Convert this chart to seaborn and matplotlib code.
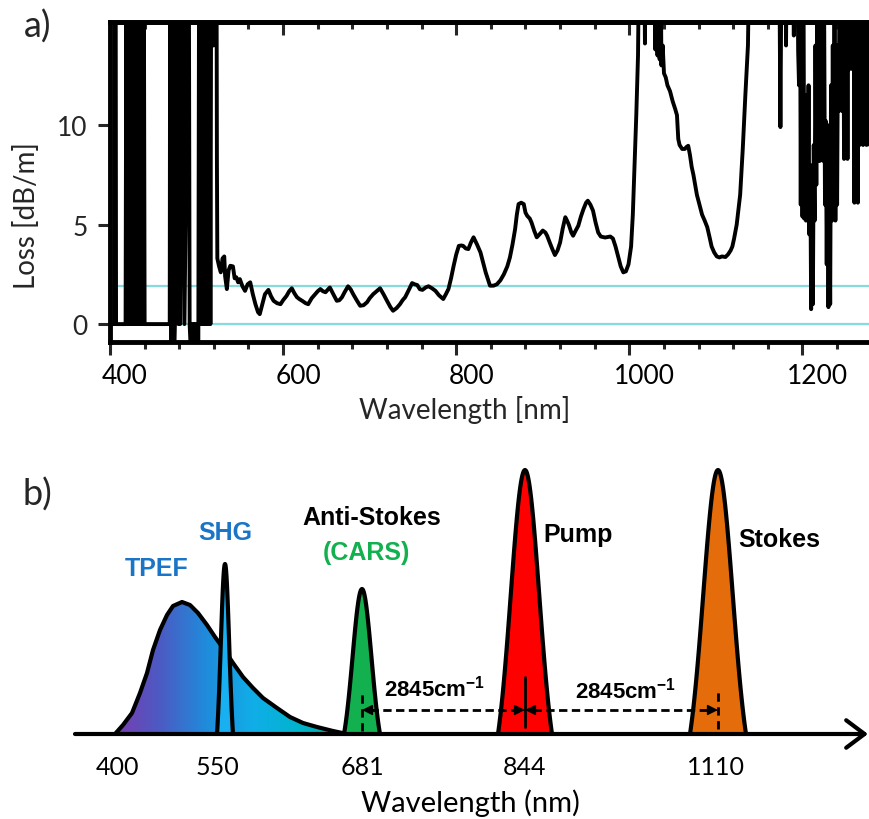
import numpy as np
import matplotlib
matplotlib.use("Agg")
import matplotlib.pyplot as plt
from matplotlib.colors import LinearSegmentedColormap
from matplotlib.patches import Polygon
from matplotlib.ticker import MultipleLocator
import seaborn as sns

# ---------------- panel a: fibre loss spectrum ----------------
# noisy cut-off region below ~520 nm (20 = off scale, -2 = below scale)
vis_noise_wl = [400, 405, 405.5, 406.5, 407, 418,
                419, 420, 421, 422, 423, 424, 425, 426, 427, 428, 429, 430,
                431, 432, 433, 434, 435, 436, 437, 438, 439, 440,
                469, 469.5, 471, 472.5, 474, 475, 478, 479, 480, 481,
                485, 486, 491, 492, 494, 495, 496, 497, 498, 499, 500, 501, 502,
                503, 504, 505, 506, 507, 508, 509, 510, 511, 512, 513, 514, 515,
                516, 517, 519, 519.7, 521, 523, 523.5, 524]
vis_noise_loss = [0, 0, 20, 20, 0, 0,
                  20, 0, 20, 0, 20, 0, 20, 0, 20, 0, 20, 0,
                  20, 0, 20, 0, 20, 0, 20, 0, 20, 0,
                  0, 20, -2, 20, -2, 0, 20, 0, 20, 0,
                  20, 0, 20, 0, -2, 0, -2, 0, -2, 0, -2, 0, -2,
                  20, 0, 20, 0, 20, 0, 20, 0, 20, 0, 20, 0, 20,
                  0, 20, 20, 14, 20, 20, 8.3, 3.3]

smooth_wl = [526, 528, 530, 532, 533, 535, 537, 539, 542, 544, 546, 548, 550,
             553, 556, 559, 562, 565, 568, 571, 573, 576, 579, 583, 586, 589,
             593, 597, 600, 604, 607, 610, 613, 616, 619, 622, 626, 629, 633,
             637, 640, 643, 646, 649, 652, 654, 658, 662, 665, 668, 671, 675,
             678, 681, 685, 689, 693, 697, 700, 704, 708, 712, 716, 720, 724,
             727, 731, 735, 738, 741, 745, 749, 752, 755, 758, 761, 765, 768,
             772, 776, 780, 785, 788, 791, 794, 797, 800, 803, 806, 808, 811,
             814, 817, 820, 824, 828, 831, 834, 837, 839, 843, 847, 851, 855,
             859, 862, 865, 868, 870, 872, 875, 878, 880, 882, 885, 887, 890,
             893, 896, 900, 903, 905, 908, 911, 914, 917, 920, 923, 926, 928,
             930, 933, 935, 938, 941, 944, 947, 950, 952, 955, 958, 961, 964,
             967, 972, 978, 981, 984, 987, 990, 993, 996, 999, 1002]
smooth_loss = [2.9, 2.6, 3.3, 3.4, 2.4, 1.76, 2.7, 2.93, 2.9, 2.3, 2.35, 2.1, 2.26,
               1.9, 1.67, 2.0, 2.1, 1.5, 1.0, 0.6, 0.5, 1.0, 1.5, 1.72, 1.4, 1.17,
               1.05, 1.0, 1.2, 1.42, 1.65, 1.8, 1.55, 1.35, 1.25, 1.17, 1.05, 1.0, 1.3,
               1.5, 1.65, 1.76, 1.65, 1.6, 1.75, 1.84, 1.5, 1.17, 1.2, 1.35, 1.6, 1.9,
               1.75, 1.5, 1.2, 0.92, 0.95, 1.1, 1.3, 1.5, 1.65, 1.8, 1.5, 1.17, 0.85,
               0.67, 0.8, 1.0, 1.2, 1.35, 1.7, 2.06, 2.0, 1.96, 1.75, 1.72, 1.85, 1.9,
               1.8, 1.67, 1.45, 1.26, 1.5, 1.76, 2.3, 2.93, 3.5, 3.93, 3.95, 3.93, 3.8,
               3.77, 4.1, 4.36, 4.0, 3.6, 3.1, 2.6, 2.2, 1.93, 1.93, 2.0, 2.2, 2.5,
               2.9, 3.35, 4.0, 4.77, 5.5, 6.03, 6.1, 6.03, 5.6, 5.44, 5.3, 5.1, 4.7,
               4.36, 4.5, 4.7, 4.6, 4.44, 4.1, 3.77, 3.47, 3.7, 4.1, 4.8, 5.37, 5.2,
               5.0, 4.6, 4.44, 4.7, 4.94, 5.4, 5.78, 6.1, 6.2, 6.0, 5.7, 5.1, 4.6,
               4.4, 4.35, 4.4, 4.3, 3.9, 3.4, 2.9, 2.6, 2.65, 3.0, 3.9]

ir_wl = [1004, 1006, 1008, 1010, 1011.5, 1017, 1018, 1019, 1029, 1030, 1031,
         1032.5, 1034, 1035, 1036, 1037, 1038.5, 1040, 1042, 1044, 1047, 1050,
         1053, 1055, 1056.5, 1058, 1061, 1064, 1066, 1068, 1070, 1072, 1074,
         1076, 1078, 1081, 1084, 1087, 1090, 1093, 1095, 1098, 1101, 1104,
         1107, 1111, 1114, 1117, 1119, 1121, 1124, 1128, 1131, 1134, 1137, 1139]
ir_loss = [5.5, 8.0, 10.5, 13.5, 20, 20, 14.1, 20, 20, 13.8, 20,
           13.5, 20, 13.3, 20, 13.0, 14.0, 12.6, 12.4, 12.0, 11.7, 11.2,
           10.8, 10.5, 9.3, 9.0, 8.8, 8.8, 8.9, 8.96, 8.5, 7.9, 7.5,
           7.0, 6.5, 6.0, 5.5, 5.2, 4.87, 4.3, 3.9, 3.6, 3.4, 3.35,
           3.4, 3.37, 3.5, 3.7, 3.9, 4.3, 5.0, 6.5, 8.8, 11.5, 14.0, 20]

nir_noise_wl = [1173, 1174.5, 1176, 1180, 1181, 1182, 1189, 1190, 1191, 1194, 1195,
                1196, 1197, 1198, 1199, 1200, 1201, 1202, 1203, 1204, 1205, 1206,
                1207, 1208, 1209, 1210, 1211, 1212, 1213, 1214, 1215, 1216, 1217,
                1218, 1219, 1220, 1221, 1222, 1223, 1224, 1225, 1226, 1227, 1228,
                1229, 1230, 1231, 1232, 1233, 1234, 1235, 1236, 1237, 1238, 1239,
                1240, 1241, 1242, 1243, 1244, 1245, 1246, 1247, 1248, 1249, 1250,
                1251, 1252, 1253, 1254, 1255, 1256, 1257, 1258, 1259, 1260, 1261,
                1262, 1263, 1264, 1265, 1266, 1267, 1268, 1269, 1270, 1271, 1272,
                1273, 1274, 1275, 1276, 1277, 1278, 1279, 1280]
nir_noise_loss = [20, 9.9, 20, 20, 14.0, 20, 20, 14.5, 20, 20, 13.7,
                  12, 20, 6, 20, 5.4, 20, 5.3, 11.5, 5.2, 11.5, 5.5,
                  12, 4.5, 8, 0.75, 6, 1.0, 9, 5.2, 14, 7, 16,
                  8.2, 16, 8.2, 20, 8.5, 12, 8.2, 16, 6, 10.2, 3,
                  10, 0.85, 8, 1.0, 12, 5.2, 14, 5.5, 16, 5.2, 14,
                  6, 14, 10.7, 20, 11, 20, 10.7, 20, 8.3, 20, 8.5,
                  20, 8.3, 20, 12.8, 20, 13, 20, 12.8, 20, 6.1, 20,
                  6.5, 20, 6.1, 20, 9.0, 20, 9.2, 20, 9.0, 20, 9.5,
                  20, 9.0, 20, 9.2, 20, 9.0, 20, 9.0]

guide_levels = [0, 1.9]
wl_major = [400, 600, 800, 1000, 1200]
loss_major = [0, 5, 10]

# ---------------- panel b: CARS / SHG / TPEF schematic ----------------
axis_ticks = [117, 217, 362, 525, 716]
axis_labels = ["400", "550", "681", "844", "1110"]

tpef_x = [115, 123, 132, 140, 147, 153, 160, 167, 173, 182, 190, 198, 207,
          215, 223, 233, 243, 253, 263, 277, 290, 303, 317, 333, 347]
tpef_h = [0, 9, 21, 41, 61, 84, 104, 119, 128, 132, 129, 121, 109,
          97, 86, 71, 57, 46, 36, 26, 17, 11, 7, 3, 0]

peak_names = ["SHG", "Anti-Stokes", "Pump", "Stokes"]
peak_pos = [225, 362, 525, 718]
peak_height = [170, 145, 264, 264]
peak_halfbase = [8, 18, 27, 28]
peak_colors = ["#18b0f0", "#12b04e", "#ff0000", "#e46c0a"]
tpef_colors = ["#7a3cb0", "#4a5cc4", "#1e8ddc", "#10aee8", "#00b4cc", "#00a88a"]
shift_text = r"2845cm$^{\mathbf{-1}}$"


def peak_outline(center, height, halfbase):
    dx = np.linspace(-halfbase, halfbase, 81)
    s = halfbase / 1.9
    g = np.exp(-dx ** 2 / (2 * s * s))
    g0 = np.exp(-halfbase ** 2 / (2 * s * s))
    return center + dx, height * (g - g0) / (1 - g0)


sns.set_theme(style="ticks")
plt.rcParams["font.family"] = ["Lato", "DejaVu Sans"]
plt.rcParams["mathtext.fontset"] = "custom"
plt.rcParams["mathtext.rm"] = "Liberation Sans"
plt.rcParams["mathtext.bf"] = "Liberation Sans:bold"
plt.rcParams["path.simplify"] = False

fig = plt.figure(figsize=(8.7, 8.2), dpi=100)

# ---- panel a ----
ax = fig.add_axes([110 / 870, (820 - 343) / 820, 760 / 870, 320 / 820])
loss_wl = vis_noise_wl + smooth_wl + ir_wl + nir_noise_wl
loss_val = vis_noise_loss + smooth_loss + ir_loss + nir_noise_loss
for lvl in guide_levels:
    ax.axhline(lvl, color="#86dcdc", lw=1.6, zorder=1)
sns.lineplot(x=loss_wl, y=loss_val, sort=False, estimator=None,
             color="black", lw=2.8, ax=ax, zorder=3)
ax.set_xlim(400, 1278)
ax.set_ylim(-0.9, 15.18)
ax.set_xticks(wl_major)
ax.xaxis.set_minor_locator(MultipleLocator(40))
ax.set_yticks(loss_major)
ax.tick_params(axis="x", which="major", direction="out", length=9, width=2.2,
               labelbottom=False)
ax.tick_params(axis="x", which="minor", direction="out", length=5, width=2.2)
ax.tick_params(axis="y", which="major", direction="out", length=9, width=2.2,
               labelsize=19, pad=7)
for side in ["left", "top", "bottom"]:
    ax.spines[side].set_linewidth(3.5)
    ax.spines[side].set_color("black")
ax.spines["right"].set_visible(False)
top = ax.secondary_xaxis("top")
top.set_xticks(wl_major)
top.xaxis.set_minor_locator(MultipleLocator(40))
top.tick_params(which="major", direction="in", length=9, width=2.2, labeltop=False)
top.tick_params(which="minor", direction="in", length=5, width=2.2)
top.spines["top"].set_linewidth(3.5)
# the wavelength labels sit a little right of their ticks in the original
for w in wl_major:
    ax.annotate(str(w), xy=(w, 0), xycoords=("data", "axes fraction"),
                xytext=(15, -21), textcoords="offset pixels",
                ha="center", va="top", fontsize=19, color="black",
                annotation_clip=False)
ax.set_xlabel("Wavelength [nm]", fontsize=20)
ax.set_ylabel("Loss [dB/m]", fontsize=20)
ax.xaxis.set_label_coords((465 - 110) / 760, (343 - 410) / 320)
ax.xaxis.label.set_va("center")
ax.yaxis.set_label_coords((26 - 110) / 760, (343 - 216) / 320)
ax.yaxis.label.set_va("center")

# ---- panel b ----
bx = fig.add_axes([0, 0, 1, 0.48])
bx.set_axis_off()

tpef_poly = Polygon(np.column_stack([tpef_x, tpef_h]), closed=True,
                    facecolor="none", edgecolor="none")
bx.add_patch(tpef_poly)
cmap = LinearSegmentedColormap.from_list("tpef", tpef_colors)
grad = np.linspace(0, 1, 256).reshape(1, -1)
im = bx.imshow(grad, extent=[min(tpef_x), max(tpef_x), 0, max(tpef_h) + 5],
               cmap=cmap, aspect="auto", zorder=2, origin="lower")
im.set_clip_path(tpef_poly)
bx.plot(tpef_x, tpef_h, color="black", lw=3, zorder=3,
        solid_joinstyle="round", solid_capstyle="round")

for pos, hgt, hb, col in zip(peak_pos, peak_height, peak_halfbase, peak_colors):
    px, py = peak_outline(pos, hgt, hb)
    bx.fill_between(px, 0, py, color=col, lw=0, zorder=4)
    bx.plot(px, py, color="black", lw=3, zorder=5,
            solid_joinstyle="round", solid_capstyle="round")

# wavelength axis arrow
bx.annotate("", xy=(868, 0), xytext=(75, 0),
            arrowprops=dict(arrowstyle="->,head_length=0.6,head_width=0.45",
                            lw=3, color="black", mutation_scale=22,
                            shrinkA=0, shrinkB=0), zorder=6)
for t, lab in zip(axis_ticks, axis_labels):
    bx.text(t, -33, lab, ha="center", va="center", fontsize=18, color="black")
bx.text(470, -68, "Wavelength (nm)", ha="center", va="center", fontsize=21,
        color="black")

# Raman shift markers
cars, pump, stokes = peak_pos[1], peak_pos[2], peak_pos[3]
bx.plot([cars, cars], [3, 43], color="black", lw=2, ls=(0, (3, 2)), zorder=7)
bx.plot([pump, pump], [7, 57], color="black", lw=2, zorder=7)
bx.plot([stokes, stokes], [5, 42], color="black", lw=2, ls=(0, (3, 2)), zorder=7)
for a, b in [(cars, pump), (pump, stokes)]:
    bx.plot([a + 8, b - 8], [24, 24], color="black", lw=2, ls=(0, (3, 1.6)),
            zorder=7)
    for tip, tail in [(a, a + 12), (b, b - 12)]:
        bx.annotate("", xy=(tip, 24), xytext=(tail, 24),
                    arrowprops=dict(arrowstyle="-|>", color="black", lw=1,
                                    mutation_scale=16, shrinkA=0, shrinkB=0),
                    zorder=8)
bx.text(435, 46, shift_text, ha="center", va="center", fontsize=16,
        family="Liberation Sans", weight="bold", color="black")
bx.text(626, 44, shift_text, ha="center", va="center", fontsize=16,
        family="Liberation Sans", weight="bold", color="black")

# peak labels
lab_kw = dict(family="Liberation Sans", weight="bold", fontsize=18, va="center")
bx.text(157, 166, "TPEF", ha="center", color="#1a75c6", **lab_kw)
bx.text(225, 202, "SHG", ha="center", color="#1a75c6", **lab_kw)
bx.text(372, 217, "Anti-Stokes", ha="center", color="black", **lab_kw)
bx.text(366, 182, "(CARS)", ha="center", color="#12b04e", **lab_kw)
bx.text(543, 200, "Pump", ha="left", color="black", **lab_kw)
bx.text(738, 195, "Stokes", ha="left", color="black", **lab_kw)

bx.set_xlim(0, 870)
bx.set_ylim(-85, 735 - (820 - 0.48 * 820))

fig.text(38 / 870, 1 - 27 / 820, "a)", fontsize=26, ha="center", va="center")
fig.text(37 / 870, 1 - 495 / 820, "b)", fontsize=26, ha="center", va="center")

fig.savefig("out.png", dpi=100, facecolor="white")
